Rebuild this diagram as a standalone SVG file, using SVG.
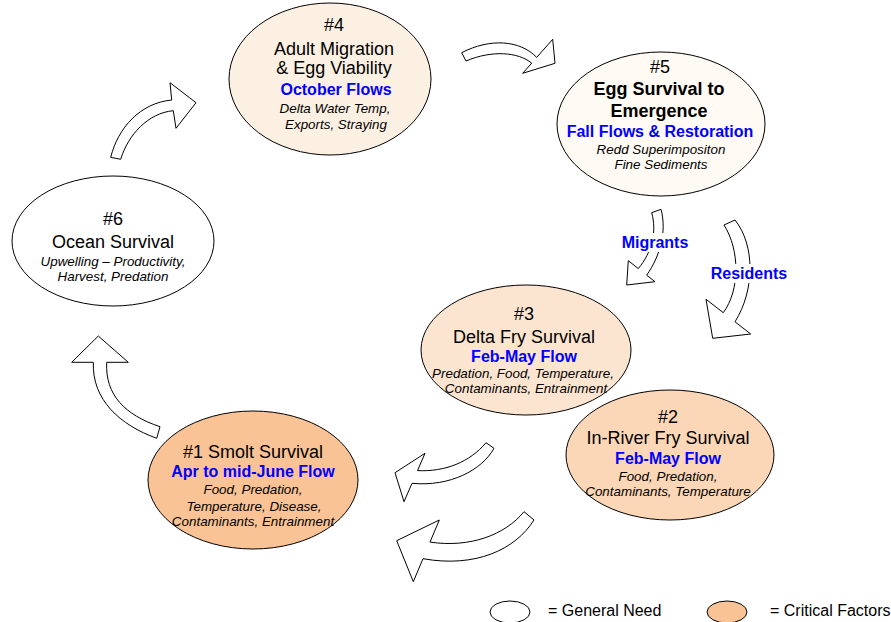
<svg xmlns="http://www.w3.org/2000/svg" width="891" height="622" viewBox="0 0 891 622">
<style>
text{font-family:"Liberation Sans",Arial,sans-serif;text-anchor:middle;fill:#000}
.t{font-size:18px}
.tb{font-size:18px;font-weight:bold}
.b{font-size:16px;font-weight:bold;fill:#0000FF}
.i{font-size:13.4px;font-style:italic}
.lg{font-size:16px;text-anchor:start}
.e{stroke:#000;stroke-width:1}
.arr{fill:#fff;stroke:#000;stroke-width:1;stroke-linejoin:miter}
</style>
<rect width="891" height="622" fill="#fff"/>
<g id="connectors">
<path class="arr" d="M110.7,157.3 C118,128 140,103 171.7,100 L170,82.7 L196,102.7 L176,128.3 L173.3,110.7 C148,113 128,135 120.7,159.3 Z"/>
<path class="arr" d="M461.7,52.7 C490,38 520,40 536.7,57.4 L552.7,39.3 L555,63.3 L522.7,73.3 L531.7,63.1 C518,52 492,50 466,61 Z"/>
<path class="arr" d="M651.7,212.7 C657,232 652,252 638.3,268.6 L628.3,260.7 L626.7,285 L655,281.7 L646.7,275.2 C660,256 667,232 661,209.3 Z"/>
<path class="arr" d="M724,225 C740,250 740,290 723.3,312.7 L706,299.3 L712.7,338.3 L750.7,334 L735,321.8 C755,290 755,245 735,220 Z"/>
<path class="arr" d="M486,442.7 C470,462 445,472 417.5,470.6 L425,453.3 L395,472.7 L404,501.7 L412,483.3 C450,487 482,470 494,448.3 Z"/>
<path class="arr" d="M524,511.7 C505,535 470,548 430,542.1 L439.3,520 L396.7,540.7 L413.3,581.7 L423,558.7 C475,568 515,550 534,520 Z"/>
<path class="arr" d="M160,426.7 C125,415 105,395 106.7,362.3 L128.3,362.3 L98.3,336 L71.7,362.3 L93.3,362.3 C92,400 120,425 156.7,438.3 Z"/>
<rect x="619" y="233" width="72" height="19" fill="#fff"/>
<text class="b" x="655" y="248">Migrants</text>
<rect x="708" y="264" width="82" height="19" fill="#fff"/>
<text class="b" x="749" y="279">Residents</text>
</g>
<g id="node4">
<ellipse class="e" cx="330" cy="79" rx="101" ry="76" fill="#FCF0E3"/>
<text class="t" x="334" y="31">#4</text>
<text class="t" x="334" y="55">Adult Migration</text>
<text class="t" x="334" y="74">&amp; Egg Viability</text>
<text class="b" x="336" y="95">October Flows</text>
<text class="i" x="335" y="113">Delta Water Temp,</text>
<text class="i" x="336" y="129">Exports, Straying</text>
</g>
<g id="node5">
<ellipse class="e" cx="661" cy="124" rx="104" ry="72" fill="#FFFAF3"/>
<text class="t" x="660" y="73">#5</text>
<text class="tb" x="659" y="95">Egg Survival to</text>
<text class="tb" x="659" y="117">Emergence</text>
<text class="b" x="660" y="137">Fall Flows &amp; Restoration</text>
<text class="i" x="661" y="154">Redd Superimpositon</text>
<text class="i" x="661" y="169">Fine Sediments</text>
</g>
<g id="node6">
<ellipse class="e" cx="113" cy="241" rx="101" ry="65" fill="#fff"/>
<text class="t" x="113" y="225">#6</text>
<text class="t" x="113" y="248">Ocean Survival</text>
<text class="i" x="113" y="266">Upwelling – Productivity,</text>
<text class="i" x="113" y="281">Harvest, Predation</text>
</g>
<g id="node3">
<ellipse class="e" cx="526" cy="350" rx="105" ry="65" fill="#FCE5D0"/>
<text class="t" x="524" y="320">#3</text>
<text class="t" x="524" y="343">Delta Fry Survival</text>
<text class="b" x="524" y="362">Feb-May Flow</text>
<text class="i" x="523" y="378">Predation, Food, Temperature,</text>
<text class="i" x="526" y="393">Contaminants, Entrainment</text>
</g>
<g id="node2">
<ellipse class="e" cx="670" cy="455" rx="104" ry="65" fill="#FBD7B7"/>
<text class="t" x="668" y="423">#2</text>
<text class="t" x="668" y="444">In-River Fry Survival</text>
<text class="b" x="668" y="464">Feb-May Flow</text>
<text class="i" x="668" y="481">Food, Predation,</text>
<text class="i" x="668" y="496">Contaminants, Temperature</text>
</g>
<g id="node1">
<ellipse class="e" cx="253" cy="480" rx="105" ry="69" fill="#F9C396"/>
<text class="t" x="253" y="458">#1 Smolt Survival</text>
<text class="b" x="253" y="477">Apr to mid-June Flow</text>
<text class="i" x="253" y="494">Food,  Predation,</text>
<text class="i" x="254" y="511">Temperature, Disease,</text>
<text class="i" x="253" y="526">Contaminants, Entrainment</text>
</g>
<g id="legend">
<ellipse class="e" cx="510" cy="612" rx="20" ry="11" fill="#fff"/>
<text class="lg" x="548" y="616">= General Need</text>
<ellipse class="e" cx="727" cy="612" rx="20" ry="11" fill="#F9C396"/>
<text class="lg" x="770" y="616">= Critical Factors</text>
</g>
</svg>
